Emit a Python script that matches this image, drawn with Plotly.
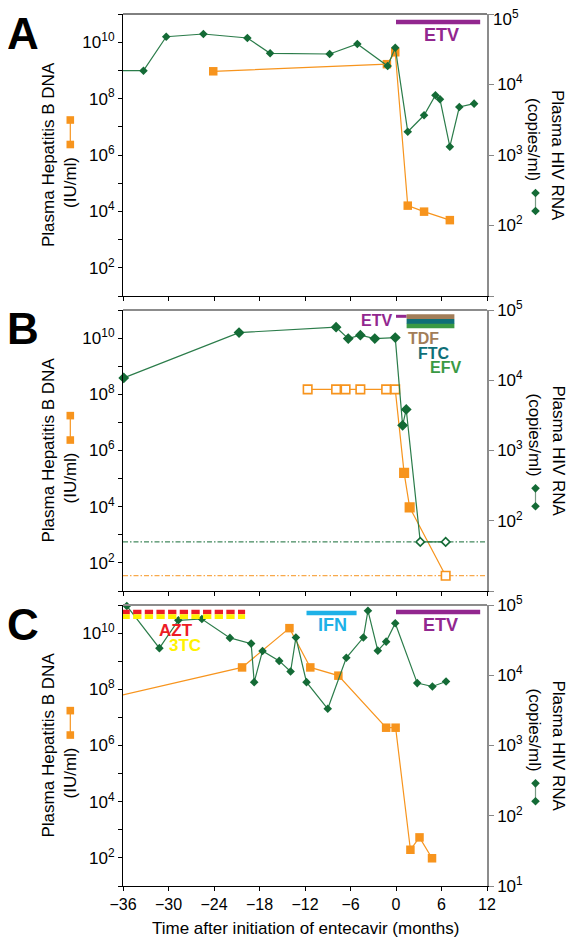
import plotly.graph_objects as go

# ---------------- DATA ----------------
# Panel A
a_hiv_month = [-37, -33.3, -30.3, -25.4, -19.6, -16.6, -8.75, -5.1, -1.1, -0.1, 1.55, 3.7, 5.2, 5.8, 7.1, 8.35, 10.3]
a_hiv_rna = [15700, 15700, 47600, 52000, 45700, 27700, 27100, 37500, 18300, 33300, 2140, 3660, 7030, 6170, 1310, 4790, 5350]
a_hbv_month = [-24.1, -1.2, -0.1, 1.55, 3.7, 7.1]
a_hbv_dna = [9.3e8, 1.66e9, 4.4e9, 1.6e4, 9.8e3, 4.9e3]

# Panel B
b_hiv_month = [-35.9, -20.7, -7.9, -6.3, -4.7, -2.8, -0.1, 0.87, 1.35, 3.2, 6.55]
b_hiv_rna = [10800, 47700, 56900, 39200, 43800, 39200, 40500, 2280, 3840, 50, 50]
b_hiv_undetect = [False, False, False, False, False, False, False, False, False, True, True]
b_hbv_month = [-11.65, -7.9, -6.65, -4.7, -1.3, -0.1, 1.07, 1.8, 6.55]
b_hbv_dna = [1.5e8, 1.5e8, 1.5e8, 1.5e8, 1.5e8, 1.5e8, 1.6e5, 9.5e3, 35]
b_hbv_open = [True, True, True, True, True, True, False, False, True]
b_hiv_limit = 50
b_hbv_limit = 35

# Panel C
c_hiv_month = [-35.5, -31.2, -28.7, -25.6, -21.9, -19.1, -18.7, -17.6, -15.4, -13.9, -13.2,
               -11.8, -9.0, -6.55, -4.3, -3.7, -2.4, -1.3, -0.1, 2.8, 4.8, 6.6]
c_hiv_rna = [96800, 24300, 60600, 63200, 34000, 28200, 7980, 22200, 16000, 11300, 34400,
             7980, 3330, 17700, 34400, 82900, 22400, 30100, 54900, 7730, 6920, 8150]
c_hbv_month = [-38, -20.3, -14.05, -11.3, -7.6, -1.3, -0.05, 1.9, 3.1, 4.75]
c_hbv_dna = [4.8e7, 6.0e8, 1.5e10, 6.0e8, 3.06e8, 4.3e6, 4.3e6, 195, 537, 97]

# Treatments: (label, start, end)
a_treat = [("ETV", 0, 11.1)]
b_treat = [("ETV", 0, 1.4), ("TDF", 1.4, 7.7), ("FTC", 1.4, 7.7), ("EFV", 1.4, 7.7)]
c_treat = [("AZT", -36.2, -19.9), ("3TC", -36.2, -19.9), ("IFN", -11.8, -5.2), ("ETV", 0, 11.1)]

x_ticks = [-36, -30, -24, -18, -12, -6, 0, 6, 12]
panel_letters = ["A", "B", "C"]
x_title = "Time after initiation of entecavir (months)"

# ---------------- STYLE ----------------
GREEN = "#146b36"
GREEN_LINE = "#2b7c4a"
ORANGE = "#f7941d"
PURPLE = "#92278f"
COLORS = {"ETV": PURPLE, "TDF": "#a27d58", "FTC": "#0f6f78", "EFV": "#3a9a44",
          "AZT": "#ed1c24", "3TC": "#fff200", "IFN": "#1eb1e7"}
FONT = "Liberation Sans, Arial, sans-serif"

# page has an 8px body margin, so the figure is drawn 8px smaller
W, H = 569, 933
ML, MR, MT, MB = 115, 90, 6, 55
REF_L = 123            # page x of the plot's left edge
REF_B = 886            # page y of the plot's bottom edge
PW = W - ML - MR
PH = H - MT - MB
panel_px = [(14, 296), (310, 591), (605, 886)]  # page top/bottom of each panel


def dom(top, bot):
    return [(REF_B - bot) / PH, (REF_B - top) / PH]


def px(X):
    return (X - REF_L) / PW


fig = go.Figure()
layout = dict(width=W, height=H, margin=dict(l=ML, r=MR, t=MT, b=MB, autoexpand=False),
              paper_bgcolor="white", plot_bgcolor="white", showlegend=False,
              font=dict(family=FONT, color="black", size=16))
shapes, annotations = [], []

left_vals = [10 ** k for k in range(1, 12)]
left_text = ["10<sup>%d</sup>" % k if k % 2 == 0 and k <= 10 else "" for k in range(1, 12)]

for i in range(3):
    top, bot = panel_px[i]
    xn = "x" if i == 0 else "x%d" % (i + 1)
    yl = "y" if i == 0 else "y%d" % (2 * i + 1)
    xkey = "xaxis" if i == 0 else "xaxis%d" % (i + 1)
    ylkey = "yaxis" if i == 0 else "yaxis%d" % (2 * i + 1)
    yrkey = "yaxis%d" % (2 * i + 2)
    d = dom(top, bot)
    layout[xkey] = dict(domain=[0, 1], anchor=yl, range=[-36, 12], tickvals=x_ticks,
                        showticklabels=(i == 2), ticks="outside", ticklen=4, tickcolor="black",
                        showline=True, linecolor="black", linewidth=1.2, showgrid=False,
                        zeroline=False, automargin=False, ticklabeloverflow="allow",
                        tickfont=dict(size=16, family=FONT))
    layout[ylkey] = dict(domain=d, anchor=xn, type="log", range=[1, 11], tickvals=left_vals,
                         ticktext=left_text, ticks="outside", ticklen=4, tickcolor="black",
                         showline=True, linecolor="black", linewidth=1.2, showgrid=False,
                         zeroline=False, automargin=False, ticklabeloverflow="allow",
                         tickfont=dict(size=17, family=FONT))
    # bottom label only in C; top label of A placed as annotation (page edge)
    r_text = ["10<sup>%d</sup>" % k if ((k > 1 or i == 2) and not (k == 5 and i == 0)) else ""
              for k in range(1, 6)]
    layout[yrkey] = dict(domain=d, anchor=xn, overlaying=yl, side="right", type="log",
                         range=[1, 5], tickvals=[10, 100, 1000, 10000, 100000], ticktext=r_text,
                         ticks="outside", ticklen=5, tickcolor="#888888",
                         showline=True, linecolor="#8c8c8c", linewidth=1.5, showgrid=False,
                         zeroline=False, automargin=False, ticklabeloverflow="allow",
                         tickfont=dict(size=17, family=FONT))
    # top border
    shapes.append(dict(type="line", xref="%s domain" % xn, yref="%s domain" % yl,
                       x0=0, x1=1, y0=1, y1=1,
                       line=dict(color="black" if i == 0 else "#8c8c8c", width=1 if i == 0 else 2)))
    # panel letter
    annotations.append(dict(text="<b>%s</b>" % panel_letters[i], xref="paper", yref="%s domain" % yl,
                            x=px(23), y=1, yshift=-19, xanchor="center", yanchor="middle",
                            showarrow=False, font=dict(size=44, family=FONT, color="black")))
    # left title
    annotations.append(dict(text="Plasma Hepatitis B DNA", xref="paper", yref="%s domain" % yl,
                            x=px(48), y=0.5, textangle=-90, xanchor="center", yanchor="middle",
                            showarrow=False, font=dict(size=17, family=FONT)))
    annotations.append(dict(text="(IU/ml)", xref="paper", yref="%s domain" % yl,
                            x=px(70), y=0.5, yshift=-27, textangle=-90, xanchor="center",
                            yanchor="middle", showarrow=False, font=dict(size=17, family=FONT)))
    # right title
    annotations.append(dict(text="Plasma HIV RNA", xref="paper", yref="%s domain" % yl,
                            x=px(558), y=0.5, textangle=90, xanchor="center", yanchor="middle",
                            showarrow=False, font=dict(size=17, family=FONT)))
    annotations.append(dict(text="(copies/ml)", xref="paper", yref="%s domain" % yl,
                            x=px(534), y=0.5, yshift=16, textangle=90, xanchor="center",
                            yanchor="middle", showarrow=False, font=dict(size=17, family=FONT)))
    # legend symbol: orange squares
    sy1, sy2 = 0.5 + 35 / 282, 0.5 + 10.5 / 282
    shapes.append(dict(type="line", xref="paper", yref="%s domain" % yl, x0=px(70.3), x1=px(70.3),
                       y0=sy1, y1=sy2, line=dict(color=ORANGE, width=1.2)))
    for sy in (sy1, sy2):
        shapes.append(dict(type="rect", xref="paper", yref="%s domain" % yl, xsizemode="pixel",
                           ysizemode="pixel", xanchor=px(70.3), yanchor=sy, x0=-3.8, x1=3.8,
                           y0=-3.8, y1=3.8, fillcolor=ORANGE, line=dict(width=0)))
    # legend symbol: green diamonds
    dy1, dy2 = 0.5 - 38 / 282, 0.5 - 56 / 282
    shapes.append(dict(type="line", xref="paper", yref="%s domain" % yl, x0=px(535.5), x1=px(535.5),
                       y0=dy1, y1=dy2, line=dict(color="#7a9a85", width=1.2)))
    for sy in (dy1, dy2):
        shapes.append(dict(type="path", xref="paper", yref="%s domain" % yl, xsizemode="pixel",
                           ysizemode="pixel", xanchor=px(535.5), yanchor=sy,
                           path="M -4.3 0 L 0 4.3 L 4.3 0 L 0 -4.3 Z",
                           fillcolor=GREEN, line=dict(width=0)))

# top right tick label of panel A (sits at the page edge)
annotations.append(dict(text="10<sup>5</sup>", xref="paper", yref="y domain", x=px(491), y=1,
                        yshift=-4, xanchor="left", yanchor="middle", showarrow=False,
                        font=dict(size=17, family=FONT)))

# x-axis title (bottom panel)
annotations.append(dict(text=x_title, xref="paper", yref="paper", x=px(305), y=0, yshift=-42,
                        xanchor="center", yanchor="middle", showarrow=False,
                        font=dict(size=17, family=FONT)))
layout["annotations"] = annotations


def frac(panel, Y):
    top, bot = panel_px[panel]
    return 1 - (Y - top) / (bot - top)


def bar(panel, x0, x1, Y, color, width, dash=None):
    xn = "x" if panel == 0 else "x%d" % (panel + 1)
    yl = "y" if panel == 0 else "y%d" % (2 * panel + 1)
    ln = dict(color=color, width=width)
    if dash:
        ln["dash"] = dash
    shapes.append(dict(type="line", xref=xn, yref="%s domain" % yl, x0=x0, x1=x1,
                       y0=frac(panel, Y), y1=frac(panel, Y), line=ln))


def label(panel, text, x, Y, color, size=17):
    xn = "x" if panel == 0 else "x%d" % (panel + 1)
    yl = "y" if panel == 0 else "y%d" % (2 * panel + 1)
    layout["annotations"].append(dict(text="<b>%s</b>" % text, xref=xn, yref="%s domain" % yl,
                                      x=x, y=frac(panel, Y), xanchor="center", yanchor="middle",
                                      showarrow=False, font=dict(size=size, family=FONT, color=color)))


# Panel A treatment
for name, s, e in a_treat:
    bar(0, s, e, 22, COLORS[name], 4.5)
    label(0, name, (s + e) / 2 + 0.4, 35, COLORS[name], 18)

# Panel B treatments
b_y = {"ETV": 316.3, "TDF": 316.6, "FTC": 321.5, "EFV": 326}
b_w = {"ETV": 3, "TDF": 4.8, "FTC": 4.8, "EFV": 4.3}
b_lab = {"ETV": (-2.6, 321), "TDF": (3.6, 339), "FTC": (5.07, 353.5), "EFV": (6.5, 368)}
for name, s, e in b_treat:
    bar(1, s, e, b_y[name], COLORS[name], b_w[name])
    label(1, name, b_lab[name][0], b_lab[name][1], COLORS[name], 16)

# Panel C treatments
c_y = {"AZT": 612, "3TC": 616.7, "IFN": 613, "ETV": 612}
c_w = {"AZT": 4.6, "3TC": 4.8, "IFN": 4.5, "ETV": 4.5}
c_lab = {"AZT": (-29.05, 630), "3TC": (-27.8, 645), "IFN": (-8.4, 625), "ETV": (5.9, 625)}
for name, s, e in c_treat:
    dash = "8.3px,3.35px" if name in ("AZT", "3TC") else None
    bar(2, s, e, c_y[name], COLORS[name], c_w[name], dash)
    label(2, name, c_lab[name][0], c_lab[name][1], COLORS[name], 17 if name in ("AZT", "3TC") else 18)

layout["shapes"] = shapes
fig.update_layout(**layout)

SQ = 8.5
DM = 6.6
LIMIT_DASH = "5px,2px,1.5px,2px"

# ---------------- TRACES ----------------
# Panel A
fig.add_trace(go.Scatter(x=a_hbv_month, y=a_hbv_dna, xaxis="x", yaxis="y", mode="lines+markers",
                         line=dict(color=ORANGE, width=1.2),
                         marker=dict(symbol="square", size=SQ, color=ORANGE)))
fig.add_trace(go.Scatter(x=a_hiv_month, y=a_hiv_rna, xaxis="x", yaxis="y2", mode="lines+markers",
                         line=dict(color=GREEN_LINE, width=1.2),
                         marker=dict(symbol="diamond", size=DM, color=GREEN)))

# Panel B
fig.add_trace(go.Scatter(x=[-36, 12], y=[b_hbv_limit, b_hbv_limit], xaxis="x2", yaxis="y3", mode="lines",
                         line=dict(color=ORANGE, width=1, dash=LIMIT_DASH)))
fig.add_trace(go.Scatter(x=b_hbv_month, y=b_hbv_dna, xaxis="x2", yaxis="y3", mode="lines+markers",
                         cliponaxis=False, line=dict(color=ORANGE, width=1.2),
                         marker=dict(symbol="square", size=SQ,
                                     color=["white" if o else ORANGE for o in b_hbv_open],
                                     line=dict(color=ORANGE, width=1.6))))
fig.add_trace(go.Scatter(x=[-36, 12], y=[b_hiv_limit, b_hiv_limit], xaxis="x2", yaxis="y4", mode="lines",
                         line=dict(color=GREEN, width=1, dash=LIMIT_DASH)))
fig.add_trace(go.Scatter(x=b_hiv_month, y=b_hiv_rna, xaxis="x2", yaxis="y4", mode="lines+markers",
                         cliponaxis=False, line=dict(color=GREEN_LINE, width=1.2),
                         marker=dict(symbol="diamond", size=DM,
                                     color=["white" if u else GREEN for u in b_hiv_undetect],
                                     line=dict(color=GREEN, width=1.6))))

# Panel C
fig.add_trace(go.Scatter(x=c_hbv_month, y=c_hbv_dna, xaxis="x3", yaxis="y5", mode="lines+markers",
                         line=dict(color=ORANGE, width=1.2),
                         marker=dict(symbol="square", size=SQ, color=ORANGE)))
fig.add_trace(go.Scatter(x=c_hiv_month, y=c_hiv_rna, xaxis="x3", yaxis="y6", mode="lines+markers",
                         cliponaxis=False, line=dict(color=GREEN_LINE, width=1.2),
                         marker=dict(symbol="diamond", size=DM, color=GREEN)))

fig.write_html("out.html")
